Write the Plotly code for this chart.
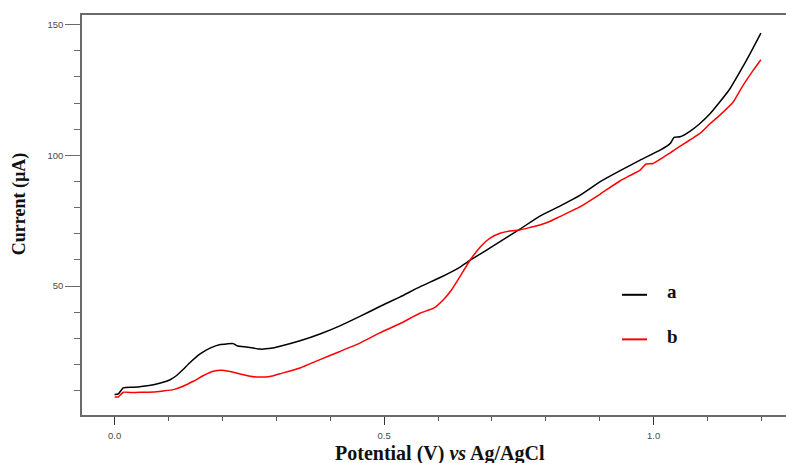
import plotly.graph_objects as go

# Linear sweep voltammograms (current vs potential)
potential_a = [0.000, 0.007, 0.016, 0.035, 0.053, 0.072, 0.090, 0.103, 0.115, 0.127,
               0.140, 0.158, 0.177, 0.196, 0.208, 0.220, 0.227, 0.245, 0.270, 0.290,
               0.307, 0.344, 0.381, 0.418, 0.455, 0.492, 0.529, 0.567, 0.604, 0.641,
               0.659, 0.715, 0.752, 0.789, 0.826, 0.864, 0.901, 0.938, 0.975, 1.012,
               1.031, 1.038, 1.049, 1.068, 1.086, 1.105, 1.123, 1.142, 1.160, 1.179,
               1.199]
current_a = [8.5, 8.8, 11.1, 11.3, 11.7, 12.3, 13.2, 14.2, 15.8, 18.1,
             20.8, 24.0, 26.3, 27.7, 27.9, 28.0, 27.2, 26.7, 25.9, 26.2,
             27.0, 29.1, 31.7, 34.8, 38.4, 42.2, 45.8, 49.8, 53.3, 57.3,
             59.8, 67.0, 71.8, 76.8, 80.6, 84.8, 90.0, 94.2, 98.2, 102.0,
             104.6, 106.9, 107.1, 109.3, 112.2, 116.0, 120.5, 125.6, 131.9, 138.9,
             146.8]

potential_b = [0.000, 0.007, 0.016, 0.035, 0.053, 0.072, 0.090, 0.109, 0.127, 0.146,
               0.165, 0.183, 0.199, 0.214, 0.233, 0.251, 0.270, 0.288, 0.307, 0.344,
               0.381, 0.418, 0.455, 0.492, 0.529, 0.567, 0.592, 0.610, 0.625, 0.641,
               0.659, 0.678, 0.696, 0.715, 0.733, 0.752, 0.770, 0.789, 0.807, 0.826,
               0.864, 0.901, 0.938, 0.975, 0.986, 0.999, 1.031, 1.049, 1.086, 1.105,
               1.123, 1.148, 1.166, 1.185, 1.199]
current_b = [7.6, 7.6, 9.4, 9.3, 9.4, 9.5, 9.9, 10.4, 11.7, 13.6,
             15.8, 17.4, 17.8, 17.3, 16.4, 15.5, 15.2, 15.4, 16.5, 18.7,
             21.9, 25.0, 28.2, 32.1, 35.6, 39.7, 41.6, 44.8, 48.5, 53.7,
             59.8, 64.9, 68.3, 70.2, 71.1, 71.5, 72.4, 73.4, 74.7, 76.6,
             80.4, 85.2, 90.3, 94.4, 96.7, 96.9, 101.0, 103.5, 108.4, 112.2,
             115.4, 120.5, 126.8, 132.6, 136.6]

series_labels = ["a", "b"]
series_colors = ["#000000", "#ff0000"]

fig = go.Figure()
fig.add_trace(go.Scatter(x=potential_a, y=current_a, mode="lines",
                         line=dict(color=series_colors[0], width=1.5, shape="spline", smoothing=0.4),
                         name=series_labels[0]))
fig.add_trace(go.Scatter(x=potential_b, y=current_b, mode="lines",
                         line=dict(color=series_colors[1], width=1.5, shape="spline", smoothing=0.4),
                         name=series_labels[1]))

axis_color = "#6a6a6a"
tick_font = dict(family="Liberation Sans, Arial, sans-serif", size=9.5, color="#4a4a4a")

fig.update_xaxes(
    range=[-0.0605, 1.2456], dtick=0.5, tickformat=".1f",
    showgrid=False, zeroline=False,
    showline=True, linecolor=axis_color, linewidth=1.5, mirror=True,
    ticks="outside", ticklen=8, tickwidth=1, tickcolor="#333333",
    minor=dict(dtick=0.1, ticks="outside", ticklen=4, tickwidth=1, tickcolor="#555555", showgrid=False),
    tickfont=tick_font, ticklabelstandoff=3,
)
fig.update_yaxes(
    range=[0.7, 153.7], dtick=50,
    showgrid=False, zeroline=False,
    showline=True, linecolor=axis_color, linewidth=1.5, mirror=False,
    ticks="outside", ticklen=15, tickwidth=1, tickcolor=axis_color,
    minor=dict(dtick=10, ticks="outside", ticklen=6, tickwidth=1, tickcolor=axis_color, showgrid=False),
    tickfont=tick_font, ticklabelstandoff=0,
)

title_font = dict(family="Liberation Serif, Times New Roman, serif", size=20, color="#111111")

annotations = [
    dict(text="<b>Potential (V) <i>vs</i> Ag/AgCl</b>", xref="paper", yref="paper",
         x=0.5085, y=-0.0975, xanchor="center", yanchor="middle", showarrow=False,
         font=title_font),
    dict(text="<b>Current (µA)</b>", xref="paper", yref="paper",
         x=-0.0895, y=0.5296, xanchor="center", yanchor="middle", showarrow=False,
         textangle=-90, font=dict(family=title_font["family"], size=18, color="#111111")),
]

# Key: short line sample followed by the series letter
key_rows = [0.3005, 0.1891]
shapes = []
for label, color, yk in zip(series_labels, series_colors, key_rows):
    shapes.append(dict(type="line", xref="paper", yref="paper",
                       x0=0.767, x1=0.8026, y0=yk, y1=yk,
                       line=dict(color=color, width=2)))
    annotations.append(dict(text="<b>%s</b>" % label, xref="paper", yref="paper",
                            x=0.828, y=yk + 0.008, xanchor="left", yanchor="middle",
                            showarrow=False,
                            font=dict(family=title_font["family"], size=19, color="#111111")))

fig.update_layout(
    width=786, height=463,
    margin=dict(l=82, r=0, t=15, b=48),
    paper_bgcolor="white", plot_bgcolor="white",
    showlegend=False,
    annotations=annotations, shapes=shapes,
)

fig.write_html("out.html")
